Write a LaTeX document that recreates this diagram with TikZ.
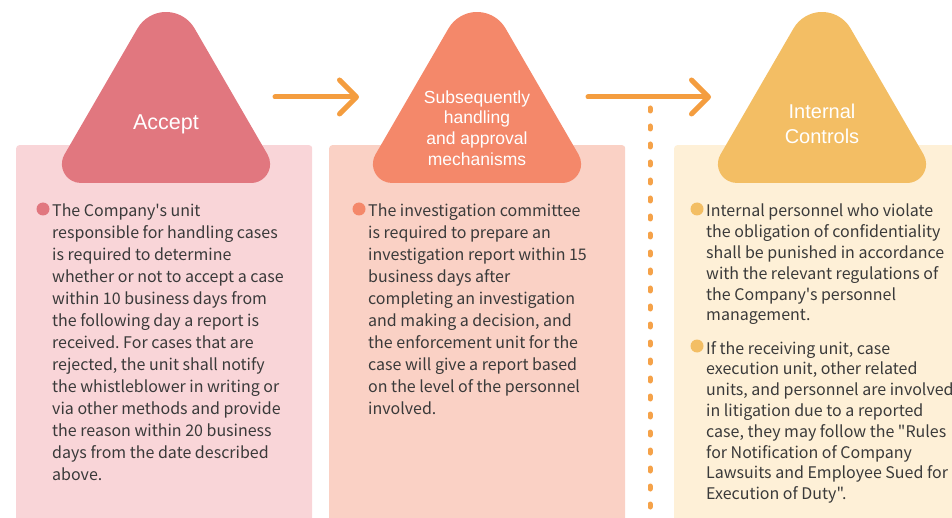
\documentclass[tikz,border=0pt]{standalone}
\usepackage{fontspec}
\setmainfont{Noto Sans CJK TC}[Ligatures=TeXOff]
\newfontfamily\headfont{Liberation Sans}
\usetikzlibrary{arrows.meta, positioning}
\frenchspacing
\definecolor{acceptRed}{HTML}{E1777F}
\definecolor{acceptPink}{HTML}{F9D5D8}
\definecolor{handleSalmon}{HTML}{F4886A}
\definecolor{handlePeach}{HTML}{FAD1C5}
\definecolor{controlGold}{HTML}{F3BE64}
\definecolor{controlCream}{HTML}{FEF0D7}
\definecolor{flowOrange}{HTML}{F49D3F}
\definecolor{bodyGray}{HTML}{3A3A3A}

\begin{document}
\begin{tikzpicture}[
    x=1pt, y=1pt,
    panel/.style={rectangle, rounded corners=3pt, fill=#1, anchor=north west, minimum height=380pt, inner sep=0pt},
    stage/.pic={
        \fill[#1] (-85.1,-183) -- (85.1,-183) arc[start angle=-90, end angle=30, radius=19]
            -- (28.6,-28.5) arc[start angle=30, end angle=150, radius=33]
            -- (-101.55,-154.5) arc[start angle=150, end angle=270, radius=19] -- cycle;
    },
    stagelabel/.style 2 args={text=white, align=center, font=\headfont\fontsize{#1}{#2}\selectfont},
    dot/.style={circle, fill=#1, minimum size=13pt, inner sep=0pt},
    body/.style={anchor=north west, inner sep=0pt, align=left, text=bodyGray, font=\fontsize{16}{#1}\selectfont},
    body/.default=22,
    flow/.style={line width=5pt, line cap=round, flowOrange, -{Straight Barb[length=17pt, width=34pt, round]}},
    divider/.style={line width=5pt, line cap=round, flowOrange!95!white, dash pattern=on 3pt off 15pt}
]
\useasboundingbox (0,0) rectangle (952,-518);

% Panels
\node[panel=acceptPink, minimum width=296pt] (accBox) at (16,-145) {};
\node[panel=handlePeach, minimum width=296pt] (subBox) at (329,-145) {};
\node[panel=controlCream, minimum width=290pt] (ctlBox) at (674,-145) {};

% Stage triangles
\pic at (166,0) {stage=acceptRed};
\pic at (477,0) {stage=handleSalmon};
\pic at (822,0) {stage=controlGold};

\node[stagelabel={21.5}{25}] (acc) at (166,-124) {Accept};
\node[stagelabel={17.5}{20.7}] (sub) at (477,-128) {Subsequently\\handling\\and approval\\mechanisms};
\node[stagelabel={20}{24.5}] (ctl) at (822,-124) {Internal\\Controls};

% Flow arrows
\coordinate (arr1a) at (275,-97);
\coordinate (arr1b) at (359,-97);
\coordinate (arr2a) at (588,-97);
\coordinate (arr2b) at (711,-97);
\draw[flow] (arr1a) -- (arr1b);
\draw[flow] (arr2a) -- (arr2b);

% Divider
\coordinate (divTop) at (650,-108);
\coordinate (divEnd) at (650,-522);
\draw[divider] (divTop) -- (divEnd);

% Accept text
\node[dot=acceptRed] (accDot) at (43,-209) {};
\node[body] (accText) at (52,-204) {The Company's unit\\
responsible for handling cases\\
is required to determine\\
whether or not to accept a case\\
within 10 business days from\\
the following day a report is\\
received. For cases that are\\
rejected, the unit shall notify\\
the whistleblower in writing or\\
via other methods and provide\\
the reason within 20 business\\
days from the date described\\
above.};

% Handling text
\node[dot=handleSalmon] (subDot) at (359,-209) {};
\node[body] (subText) at (368,-204) {The investigation committee\\
is required to prepare an\\
investigation report within 15\\
business days after\\
completing an investigation\\
and making a decision, and\\
the enforcement unit for the\\
case will give a report based\\
on the level of the personnel\\
involved.};

% Controls text
\node[dot=controlGold] (ctlDot) at (697,-209) {};
\node[body=20.8] (ctlText) at (706,-204) {Internal personnel who violate\\
the obligation of confidentiality\\
shall be punished in accordance\\
with the relevant regulations of\\
the Company's personnel\\
management.};
\node[dot=controlGold] (ctlDotB) at (697,-346) {};
\node[body=20.8] (ctlTextB) at (706,-341) {If the receiving unit, case\\
execution unit, other related\\
units, and personnel are involved\\
in litigation due to a reported\\
case, they may follow the "Rules\\
for Notification of Company\\
Lawsuits and Employee Sued for\\
Execution of Duty".};

\end{tikzpicture}
\end{document}
